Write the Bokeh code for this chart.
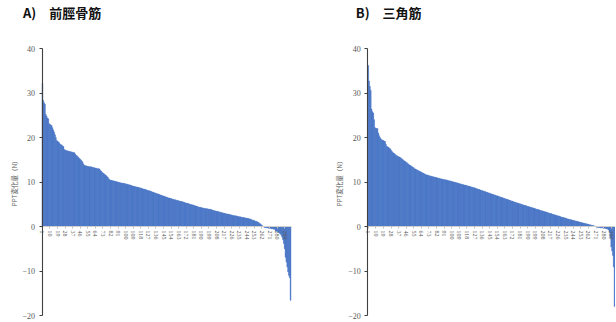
from bokeh.plotting import figure
from bokeh.models import Range1d, FixedTicker, Label
from bokeh.layouts import row
from bokeh.embed import file_html
from bokeh.resources import INLINE

# ---- data ----
title_a = "A)\u3000前脛骨筋"
title_b = "B)\u3000三角筋"
y_label = "PPT変化量（N）"
y_ticks = [-20, -10, 0, 10, 20, 30, 40]

values_a = [
    32.2, 28.3, 27.8, 27.5, 25.2, 24.8, 24.4, 24.2, 23.1, 23.0,
    22.8, 22.7, 22.2, 21.7, 21.2, 20.6, 20.0, 19.3, 19.2, 19.0,
    18.8, 18.5, 18.4, 18.3, 18.1, 18.0, 17.3, 17.2, 17.1, 17.0,
    17.0, 16.9, 16.9, 16.8, 16.8, 16.7, 16.7, 16.6, 16.6, 16.3,
    16.0, 15.9, 15.7, 15.5, 15.3, 15.1, 14.9, 14.7, 14.4, 14.0,
    13.7, 13.7, 13.6, 13.6, 13.5, 13.5, 13.4, 13.4, 13.4, 13.3,
    13.3, 13.2, 13.2, 13.1, 13.1, 13.0, 13.0, 13.0, 12.9, 12.6,
    12.4, 12.2, 12.0, 11.9, 11.7, 11.6, 11.4, 11.2, 11.0, 10.7,
    10.5, 10.4, 10.4, 10.3, 10.3, 10.2, 10.2, 10.1, 10.1, 10.0,
    10.0, 9.9, 9.9, 9.8, 9.8, 9.7, 9.7, 9.7, 9.6, 9.6,
    9.5, 9.5, 9.4, 9.4, 9.3, 9.3, 9.2, 9.1, 9.1, 9.0,
    9.0, 8.9, 8.9, 8.8, 8.8, 8.7, 8.7, 8.6, 8.6, 8.5,
    8.4, 8.4, 8.3, 8.3, 8.2, 8.1, 8.1, 8.0, 8.0, 7.9,
    7.8, 7.7, 7.7, 7.6, 7.5, 7.5, 7.4, 7.3, 7.3, 7.2,
    7.1, 7.0, 7.0, 6.9, 6.8, 6.8, 6.7, 6.6, 6.6, 6.5,
    6.4, 6.4, 6.3, 6.3, 6.2, 6.1, 6.1, 6.0, 6.0, 5.9,
    5.9, 5.8, 5.8, 5.7, 5.7, 5.6, 5.6, 5.5, 5.5, 5.4,
    5.3, 5.3, 5.2, 5.2, 5.1, 5.0, 5.0, 4.9, 4.9, 4.8,
    4.8, 4.7, 4.6, 4.6, 4.5, 4.4, 4.4, 4.3, 4.3, 4.2,
    4.2, 4.1, 4.1, 4.1, 4.0, 4.0, 4.0, 3.9, 3.9, 3.9,
    3.8, 3.8, 3.7, 3.6, 3.6, 3.5, 3.5, 3.4, 3.4, 3.3,
    3.3, 3.2, 3.2, 3.1, 3.1, 3.0, 3.0, 2.9, 2.9, 2.8,
    2.8, 2.8, 2.7, 2.7, 2.6, 2.6, 2.5, 2.5, 2.4, 2.4,
    2.4, 2.3, 2.3, 2.2, 2.2, 2.2, 2.1, 2.1, 2.0, 2.0,
    2.0, 1.9, 1.9, 1.9, 1.8, 1.8, 1.7, 1.7, 1.6, 1.5,
    1.4, 1.4, 1.3, 1.2, 1.2, 1.1, 1.0, 0.9, 0.7, 0.6,
    0.4, 0.3, 0.1, -0.1, -0.2, -0.2, -0.3, -0.3, -0.3, -0.4,
    -0.4, -0.4, -0.5, -0.5, -0.5, -0.6, -0.6, -0.9, -1.0, -1.1,
    -1.2, -1.3, -1.5, -1.7, -2.0, -2.4, -3.0, -3.8, -5.0, -6.9,
    -8.0, -9.1, -10.2, -11.0, -11.5, -16.6,
]

values_b = [
    36.2, 32.7, 31.5, 30.6, 26.4, 25.8, 25.5, 24.0, 22.2, 22.1,
    22.0, 22.0, 21.0, 20.4, 20.0, 19.7, 19.5, 19.4, 19.3, 19.2,
    19.1, 18.5, 18.0, 17.9, 17.8, 17.6, 17.5, 17.2, 16.9, 16.7,
    16.5, 16.4, 16.2, 16.0, 15.9, 15.8, 15.7, 15.6, 15.5, 15.3,
    15.2, 15.0, 14.9, 14.7, 14.6, 14.4, 14.3, 14.1, 14.0, 13.8,
    13.7, 13.6, 13.4, 13.3, 13.2, 13.0, 12.9, 12.8, 12.7, 12.6,
    12.5, 12.4, 12.3, 12.2, 12.1, 12.0, 11.9, 11.8, 11.7, 11.6,
    11.6, 11.5, 11.4, 11.4, 11.3, 11.3, 11.2, 11.2, 11.1, 11.1,
    11.0, 11.0, 10.9, 10.9, 10.8, 10.8, 10.7, 10.7, 10.6, 10.6,
    10.5, 10.5, 10.5, 10.4, 10.4, 10.3, 10.3, 10.2, 10.2, 10.1,
    10.1, 10.0, 10.0, 9.9, 9.9, 9.8, 9.8, 9.7, 9.6, 9.6,
    9.5, 9.5, 9.4, 9.4, 9.3, 9.3, 9.2, 9.2, 9.1, 9.1,
    9.0, 9.0, 8.9, 8.8, 8.8, 8.7, 8.7, 8.6, 8.5, 8.5,
    8.4, 8.3, 8.3, 8.2, 8.1, 8.1, 8.0, 7.9, 7.9, 7.8,
    7.7, 7.7, 7.6, 7.5, 7.5, 7.4, 7.3, 7.3, 7.2, 7.1,
    7.1, 7.0, 6.9, 6.9, 6.8, 6.7, 6.7, 6.6, 6.5, 6.5,
    6.4, 6.3, 6.3, 6.2, 6.1, 6.1, 6.0, 5.9, 5.9, 5.8,
    5.7, 5.7, 5.6, 5.5, 5.5, 5.4, 5.3, 5.3, 5.2, 5.1,
    5.1, 5.0, 5.0, 4.9, 4.8, 4.8, 4.7, 4.7, 4.6, 4.5,
    4.5, 4.4, 4.4, 4.3, 4.2, 4.2, 4.1, 4.1, 4.0, 3.9,
    3.9, 3.8, 3.8, 3.7, 3.6, 3.6, 3.5, 3.5, 3.4, 3.3,
    3.3, 3.2, 3.2, 3.1, 3.0, 3.0, 2.9, 2.9, 2.8, 2.7,
    2.7, 2.6, 2.6, 2.5, 2.4, 2.4, 2.3, 2.3, 2.2, 2.1,
    2.1, 2.0, 2.0, 1.9, 1.9, 1.8, 1.7, 1.7, 1.6, 1.6,
    1.5, 1.5, 1.4, 1.4, 1.3, 1.3, 1.2, 1.2, 1.1, 1.1,
    1.0, 1.0, 0.9, 0.9, 0.8, 0.8, 0.7, 0.7, 0.6, 0.6,
    0.5, 0.5, 0.4, 0.4, 0.3, 0.3, 0.2, 0.2, 0.1, 0.1,
    -0.1, -0.1, -0.2, -0.2, -0.2, -0.3, -0.3, -0.3, -0.3, -0.4,
    -0.4, -0.4, -0.5, -0.5, -0.6, -0.8, -1.3, -2.5, -4.6, -5.5,
    -6.5, -9.1, -18.0,
]

BAR_COLOR = "#4472C4"
AXIS_DARK = "#404040"
LABEL_GRAY = "#595959"

# ---- layout (pixels inside each figure) ----
FIG_H = 321
PX_TOP_TICK = 48      # where 40 sits, from the figure top
PX_BOTTOM_TICK = 315  # where -20 sits
TITLE_TOP = 2


def make_panel(title_text, values, fig_w, px_axis, px_bar_end, title_dx):
    n = len(values)
    xs = list(range(1, n + 1))
    y_lo, y_hi = y_ticks[0], y_ticks[-1]
    sy = (PX_BOTTOM_TICK - PX_TOP_TICK) / (y_hi - y_lo)
    x_lo, x_hi = 0.5, n + 0.5
    sx = (px_bar_end - px_axis) / (x_hi - x_lo)

    p = figure(
        frame_width=fig_w, frame_height=FIG_H,
        x_range=Range1d(x_lo - px_axis / sx, x_hi + (fig_w - px_bar_end) / sx),
        y_range=Range1d(y_lo - (FIG_H - PX_BOTTOM_TICK) / sy, y_hi + PX_TOP_TICK / sy),
        output_backend="svg", toolbar_location=None,
        min_border_left=0, min_border_right=0,
        min_border_top=0, min_border_bottom=0,
    )
    p.vbar(x=xs, top=values, bottom=0, width=1.0,
           fill_color=BAR_COLOR, line_color=BAR_COLOR, line_width=0.4)

    # panel heading
    p.add_layout(Label(
        x=x_lo, y=y_hi, x_units="data", y_units="data",
        x_offset=title_dx, y_offset=PX_TOP_TICK - TITLE_TOP,
        text=title_text, text_font="Noto Sans CJK JP", text_font_size="13px",
        text_font_style="bold", text_color="#111111",
        text_align="left", text_baseline="top",
    ))

    p.xgrid.visible = False
    p.ygrid.visible = False
    p.outline_line_color = None
    p.background_fill_color = "white"
    p.border_fill_color = "white"

    # x axis sitting on the zero line
    xa = p.xaxis[0]
    xa.fixed_location = 0
    xa.bounds = (x_lo, x_hi)
    xa.ticker = FixedTicker(ticks=list(range(1, n + 1, 9)))
    xa.major_label_orientation = "vertical"
    xa.axis_line_color = "#d0d0d0"
    xa.axis_line_width = 1
    xa.major_tick_out = 2
    xa.major_tick_in = 0
    xa.major_tick_line_color = "#bfbfbf"
    xa.minor_tick_line_color = None
    xa.major_label_text_font = "Liberation Serif"
    xa.major_label_text_font_size = "6px"
    xa.major_label_text_color = LABEL_GRAY
    xa.major_label_standoff = 2

    # y axis at the left edge of the first bar
    ya = p.yaxis[0]
    ya.fixed_location = x_lo
    ya.bounds = (y_lo, y_hi)
    ya.ticker = FixedTicker(ticks=y_ticks)
    ya.axis_line_color = AXIS_DARK
    ya.axis_line_width = 1.1
    ya.major_tick_out = 3
    ya.major_tick_in = 0
    ya.major_tick_line_color = AXIS_DARK
    ya.minor_tick_line_color = None
    ya.major_label_text_font = "Liberation Serif"
    ya.major_label_text_font_size = "8px"
    ya.major_label_text_color = LABEL_GRAY
    ya.major_label_standoff = 4
    ya.axis_label = y_label
    ya.axis_label_text_font = "Noto Sans CJK JP"
    ya.axis_label_text_font_size = "6.5px"
    ya.axis_label_text_font_style = "normal"
    ya.axis_label_text_color = LABEL_GRAY
    ya.axis_label_standoff = 1
    return p


pa = make_panel(title_a, values_a, 308, 41.5, 290.5, -19)
pb = make_panel(title_b, values_b, 307, 59.3, 306.5, -12)

layout = row(pa, pb)
open("out.html", "w").write(file_html(layout, INLINE))
